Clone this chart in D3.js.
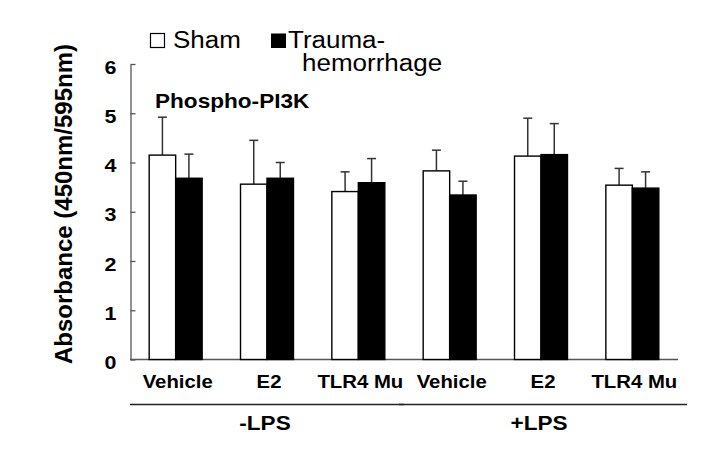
<!DOCTYPE html>
<html>
<head>
<meta charset="utf-8">
<script src="https://cdn.jsdelivr.net/npm/d3@7"></script>
<style>
  body { margin: 0; background: #fff; }
  text { font-family: Arial, "Liberation Sans", sans-serif; }
</style>
</head>
<body>
<div id="chart"></div>
<script>
// data
const treatments = ["Vehicle", "E2", "TLR4 Mu", "Vehicle", "E2", "TLR4 Mu"];
const lpsGroups = ["-LPS", "+LPS"];
const sham = [4.15, 3.56, 3.41, 3.83, 4.13, 3.54];
const shamErr = [0.77, 0.89, 0.40, 0.42, 0.77, 0.34];
const trauma = [3.68, 3.68, 3.59, 3.34, 4.16, 3.48];
const traumaErr = [0.49, 0.32, 0.49, 0.28, 0.63, 0.33];
const yTicks = [0, 1, 2, 3, 4, 5, 6];

const width = 723, height = 473;
const sx = 1.13; // text in the source is a bit wide

const svg = d3.select("#chart").append("svg")
  .attr("width", width).attr("height", height);

svg.append("rect").attr("width", width).attr("height", height).attr("fill", "#fff");

const x = d3.scaleBand()
  .domain(d3.range(treatments.length))
  .range([130, 678])
  .paddingInner(0.42)
  .paddingOuter(0.21);

const xSub = d3.scaleBand()
  .domain(["sham", "trauma"])
  .range([0, x.bandwidth()]);

const y = d3.scaleLinear().domain([0, 6]).range([359.5, 64]);

// stretched text helper
function label(g, str, tx, ty, size, anchor, weight) {
  return g.append("text")
    .attr("transform", `translate(${tx},${ty}) scale(${sx},1)`)
    .attr("text-anchor", anchor)
    .style("font-size", size + "px")
    .style("font-weight", weight || "bold")
    .attr("fill", "#000")
    .text(str);
}

// y axis
const yAxis = svg.append("g")
  .attr("transform", "translate(130.5,0)")
  .call(d3.axisLeft(y).tickValues(yTicks).tickFormat(d3.format("d"))
    .tickSize(-5).tickSizeOuter(0));
yAxis.select(".domain").attr("stroke", "#555").attr("stroke-width", 1.3);
yAxis.selectAll(".tick line").attr("stroke", "#555").attr("stroke-width", 1.3);
yAxis.selectAll(".tick text")
  .attr("x", null).attr("dy", null)
  .attr("transform", `translate(-14,9) scale(${sx},1)`)
  .style("font-size", "19px").style("font-weight", "bold")
  .attr("fill", "#000");

// baseline
svg.append("line")
  .attr("x1", x.range()[0]).attr("x2", x.range()[1])
  .attr("y1", y(0)).attr("y2", y(0))
  .attr("stroke", "#555").attr("stroke-width", 1.5);

// y label
svg.append("text")
  .attr("transform", `translate(72,204) rotate(-90)`)
  .attr("text-anchor", "middle")
  .style("font-size", "24px").style("font-weight", "bold")
  .text("Absorbance (450nm/595nm)");

// bars
const rows = treatments.map((t, i) => ({ i, t }));
const series = [
  { key: "sham", vals: sham, errs: shamErr, fill: "#fff" },
  { key: "trauma", vals: trauma, errs: traumaErr, fill: "#000" }
];

series.forEach(s => {
  const g = svg.append("g");
  // error bars (upper only)
  g.selectAll("line.err").data(rows).enter().append("line")
    .attr("class", "err")
    .attr("x1", d => x(d.i) + xSub(s.key) + xSub.bandwidth() / 2)
    .attr("x2", d => x(d.i) + xSub(s.key) + xSub.bandwidth() / 2)
    .attr("y1", d => y(s.vals[d.i]))
    .attr("y2", d => y(s.vals[d.i] + s.errs[d.i]))
    .attr("stroke", "#333").attr("stroke-width", 1.5);
  g.selectAll("line.cap").data(rows).enter().append("line")
    .attr("class", "cap")
    .attr("x1", d => x(d.i) + xSub(s.key) + xSub.bandwidth() / 2 - 4.5)
    .attr("x2", d => x(d.i) + xSub(s.key) + xSub.bandwidth() / 2 + 4.5)
    .attr("y1", d => y(s.vals[d.i] + s.errs[d.i]))
    .attr("y2", d => y(s.vals[d.i] + s.errs[d.i]))
    .attr("stroke", "#333").attr("stroke-width", 1.5);
  g.selectAll("rect").data(rows).enter().append("rect")
    .attr("x", d => x(d.i) + xSub(s.key))
    .attr("y", d => y(s.vals[d.i]))
    .attr("width", xSub.bandwidth())
    .attr("height", d => y(0) - y(s.vals[d.i]))
    .attr("fill", s.fill)
    .attr("stroke", "#000").attr("stroke-width", 1.4);
});

// category labels
const catG = svg.append("g");
rows.forEach(d => {
  label(catG, d.t, x(d.i) + x.bandwidth() / 2 + 2, 388, 18, "middle");
});

// LPS group lines and labels
const grpG = svg.append("g");
lpsGroups.forEach((name, k) => {
  const first = k * 3, last = k * 3 + 2;
  const x1 = k === 0 ? x.range()[0] : x(first) - x.step() * x.paddingInner() / 2 - 5;
  const x2 = k === 0 ? x(last) + x.bandwidth() + x.step() * x.paddingInner() / 2 : x(last) + x.bandwidth() + x.step() * x.paddingOuter() + 9;
  grpG.append("line")
    .attr("x1", x1).attr("x2", x2)
    .attr("y1", 404.5).attr("y2", 404.5)
    .attr("stroke", "#222").attr("stroke-width", 1.3);
  const cx = (x(first) + x(last) + x.bandwidth()) / 2;
  label(grpG, name, cx - 2, 430, 20, "middle");
});

// panel title
label(svg, "Phospho-PI3K", 155, 108, 20, "start");

// legend
const leg = svg.append("g");
leg.append("rect").attr("x", 150.5).attr("y", 33.5).attr("width", 14).attr("height", 14)
  .attr("fill", "#fff").attr("stroke", "#000").attr("stroke-width", 1.2);
label(leg, "Sham", 173, 48, 23, "start", "normal");
leg.append("rect").attr("x", 271).attr("y", 33.5).attr("width", 15).attr("height", 14.5)
  .attr("fill", "#000");
label(leg, "Trauma-", 288, 48, 23, "start", "normal");
label(leg, "hemorrhage", 302, 71, 23, "start", "normal");
</script>
</body>
</html>
